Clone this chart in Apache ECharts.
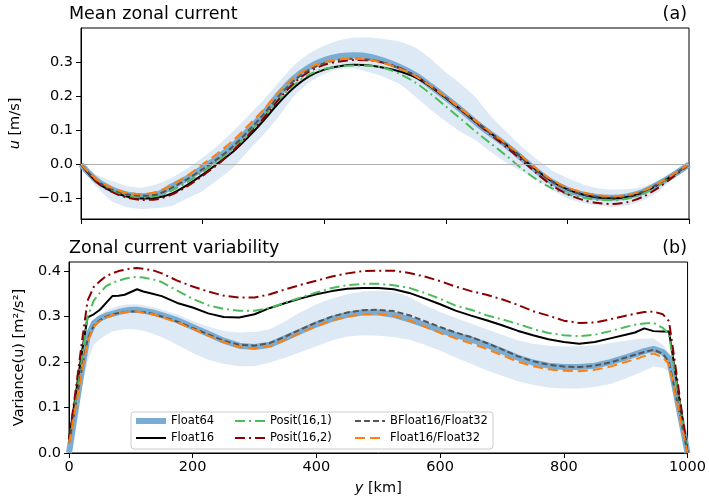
<!DOCTYPE html>
<html><head><meta charset="utf-8">
<script src="https://cdn.jsdelivr.net/npm/echarts@6/dist/echarts.min.js"></script>
<style>html,body{margin:0;padding:0;background:#fff}#c{width:709px;height:500px}</style>
</head><body><div id="c"></div>
<script>
// ---- Panel (a): mean zonal current u [m/s] ----
const yTop = [0,25,50,75,100,125,150,175,200,225,250,275,300,325,350,375,400,425,450,475,500,525,550,575,600,625,650,675,700,725,750,775,800,825,850,875,900,925,950,975,1000];
const uFloat64 = [0,-0.046,-0.073,-0.088,-0.093,-0.088,-0.064,-0.04,-0.011,0.02,0.055,0.1,0.148,0.205,0.252,0.285,0.306,0.317,0.32,0.316,0.303,0.285,0.262,0.23,0.196,0.16,0.122,0.088,0.055,0.018,-0.02,-0.052,-0.074,-0.088,-0.096,-0.098,-0.093,-0.08,-0.057,-0.03,0];
const uFloat16 = [0,-0.05,-0.078,-0.094,-0.1,-0.098,-0.085,-0.06,-0.03,0.003,0.037,0.08,0.128,0.18,0.225,0.258,0.278,0.288,0.292,0.29,0.283,0.272,0.255,0.228,0.195,0.16,0.124,0.09,0.057,0.02,-0.018,-0.05,-0.073,-0.088,-0.097,-0.1,-0.095,-0.082,-0.058,-0.03,0];
const uPosit161 = [0,-0.048,-0.076,-0.092,-0.097,-0.093,-0.076,-0.052,-0.022,0.01,0.046,0.09,0.138,0.19,0.233,0.263,0.28,0.288,0.29,0.289,0.282,0.265,0.24,0.207,0.17,0.133,0.095,0.06,0.025,-0.012,-0.045,-0.07,-0.087,-0.098,-0.104,-0.105,-0.1,-0.085,-0.06,-0.03,0];
const uPosit162 = [0,-0.05,-0.08,-0.097,-0.104,-0.102,-0.088,-0.064,-0.033,0,0.04,0.086,0.135,0.19,0.238,0.272,0.292,0.302,0.306,0.305,0.297,0.282,0.26,0.23,0.196,0.16,0.122,0.086,0.05,0.012,-0.027,-0.062,-0.087,-0.104,-0.113,-0.116,-0.11,-0.094,-0.068,-0.035,0];
const uBFloat16 = [0,-0.046,-0.072,-0.087,-0.092,-0.088,-0.068,-0.043,-0.014,0.017,0.053,0.098,0.146,0.2,0.245,0.277,0.297,0.307,0.31,0.307,0.297,0.281,0.26,0.229,0.196,0.16,0.123,0.089,0.056,0.019,-0.019,-0.051,-0.073,-0.087,-0.095,-0.097,-0.092,-0.079,-0.056,-0.029,0];
const uFloat16_32 = [0,-0.043,-0.068,-0.083,-0.087,-0.08,-0.06,-0.033,0,0.033,0.07,0.114,0.16,0.212,0.254,0.283,0.3,0.308,0.31,0.306,0.296,0.28,0.259,0.23,0.198,0.163,0.127,0.093,0.06,0.024,-0.014,-0.046,-0.068,-0.082,-0.09,-0.093,-0.089,-0.077,-0.055,-0.028,0];
const uBandUpper = [0,-0.03,-0.048,-0.063,-0.068,-0.058,-0.038,-0.012,0.02,0.055,0.097,0.142,0.189,0.24,0.29,0.325,0.348,0.364,0.372,0.372,0.367,0.36,0.343,0.31,0.27,0.235,0.195,0.14,0.095,0.052,0.015,-0.018,-0.04,-0.058,-0.07,-0.074,-0.072,-0.066,-0.048,-0.022,0];
const uBandLower = [0,-0.065,-0.107,-0.125,-0.131,-0.128,-0.121,-0.1,-0.078,-0.045,-0.01,0.04,0.087,0.14,0.2,0.24,0.265,0.28,0.282,0.27,0.255,0.235,0.199,0.16,0.126,0.095,0.07,0.035,0.005,-0.02,-0.045,-0.075,-0.1,-0.113,-0.12,-0.125,-0.12,-0.105,-0.08,-0.04,0];

// ---- Panel (b): variance of u [m^2/s^2] ----
const yBot = [0,10,20,30,40,50,60,70,80,90,100,110,120,135,150,175,200,225,250,275,300,325,350,375,400,425,450,475,500,525,550,575,600,625,650,675,700,725,750,775,800,825,850,875,900,915,930,945,960,970,980,990,1000];
const vFloat64 = [0,0.088,0.176,0.255,0.285,0.296,0.302,0.306,0.31,0.313,0.315,0.315,0.313,0.309,0.303,0.292,0.277,0.262,0.247,0.236,0.233,0.238,0.253,0.268,0.283,0.295,0.304,0.309,0.309,0.304,0.294,0.282,0.27,0.259,0.25,0.238,0.224,0.21,0.199,0.192,0.189,0.189,0.192,0.2,0.21,0.217,0.224,0.229,0.222,0.208,0.14,0.07,0];
const vFloat16 = [0.03,0.12,0.215,0.298,0.305,0.315,0.33,0.345,0.346,0.348,0.354,0.36,0.355,0.35,0.345,0.33,0.32,0.307,0.299,0.298,0.305,0.319,0.33,0.34,0.349,0.356,0.361,0.363,0.363,0.36,0.352,0.34,0.327,0.313,0.302,0.292,0.281,0.269,0.259,0.25,0.244,0.24,0.244,0.252,0.26,0.265,0.274,0.268,0.267,0.267,0.18,0.09,0];
const vPosit161 = [0.02,0.11,0.2,0.3,0.335,0.352,0.367,0.374,0.379,0.383,0.386,0.387,0.386,0.382,0.376,0.357,0.339,0.325,0.317,0.313,0.313,0.319,0.331,0.342,0.353,0.363,0.369,0.372,0.372,0.369,0.363,0.352,0.339,0.324,0.315,0.303,0.294,0.284,0.273,0.264,0.259,0.257,0.26,0.268,0.277,0.282,0.285,0.286,0.275,0.262,0.175,0.088,0];
const vPosit162 = [0.03,0.13,0.235,0.335,0.365,0.378,0.389,0.395,0.4,0.403,0.406,0.407,0.405,0.402,0.395,0.379,0.366,0.355,0.346,0.342,0.342,0.349,0.36,0.37,0.379,0.388,0.395,0.4,0.401,0.401,0.396,0.388,0.378,0.366,0.356,0.348,0.338,0.326,0.312,0.302,0.291,0.286,0.287,0.294,0.302,0.306,0.31,0.311,0.305,0.29,0.195,0.097,0];
const vBFloat16 = [0.02,0.1,0.18,0.25,0.28,0.292,0.3,0.305,0.308,0.31,0.311,0.311,0.31,0.306,0.3,0.289,0.275,0.261,0.247,0.238,0.236,0.242,0.256,0.272,0.287,0.3,0.309,0.314,0.315,0.312,0.303,0.29,0.277,0.265,0.255,0.242,0.228,0.213,0.202,0.194,0.19,0.189,0.192,0.199,0.21,0.216,0.222,0.227,0.218,0.2,0.135,0.068,0];
const vFloat16_32 = [0.02,0.095,0.172,0.245,0.278,0.29,0.298,0.303,0.307,0.31,0.311,0.311,0.309,0.305,0.299,0.287,0.273,0.258,0.244,0.233,0.23,0.235,0.249,0.265,0.279,0.291,0.3,0.305,0.306,0.302,0.292,0.278,0.264,0.252,0.241,0.229,0.215,0.201,0.191,0.184,0.181,0.18,0.183,0.19,0.2,0.206,0.213,0.219,0.21,0.195,0.13,0.065,0];
const vBandUpper = [0,0.1,0.2,0.27,0.292,0.305,0.313,0.319,0.323,0.326,0.327,0.327,0.325,0.321,0.315,0.305,0.29,0.278,0.268,0.265,0.266,0.272,0.29,0.31,0.327,0.34,0.349,0.355,0.357,0.355,0.343,0.325,0.31,0.297,0.285,0.272,0.26,0.248,0.24,0.236,0.234,0.235,0.237,0.242,0.247,0.25,0.252,0.252,0.238,0.22,0.147,0.073,0];
const vBandLower = [0,0.07,0.14,0.2,0.238,0.25,0.26,0.267,0.27,0.272,0.272,0.271,0.269,0.263,0.255,0.238,0.22,0.205,0.196,0.191,0.191,0.199,0.21,0.222,0.235,0.248,0.256,0.259,0.258,0.255,0.249,0.238,0.225,0.21,0.196,0.182,0.17,0.158,0.15,0.144,0.142,0.142,0.145,0.152,0.164,0.172,0.181,0.19,0.187,0.18,0.12,0.06,0];

// ---- tick labels ----
const xTicks = [0,200,400,600,800,1000];
const yTicksTop = [-0.1,0,0.1,0.2,0.3];
const yTicksBot = [0,0.1,0.2,0.3,0.4];
const legendNames = [['Float64','Float16'],['Posit(16,1)','Posit(16,2)'],['BFloat16/Float32','Float16/Float32']];

const FONT = 'DejaVu Sans';
const pair = (xs, ys) => xs.map((x, i) => [x, ys[i]]);
const fmtY = v => (v < 0 ? '\u2212' : '') + Math.abs(v).toFixed(1);

const styles = {
  'Float64': {color: '#79add4', width: 6, type: 'solid'},
  'Float16': {color: '#000000', width: 2, type: 'solid'},
  'Posit(16,1)': {color: '#4cbc5a', width: 2, type: [10, 4, 2, 4]},
  'Posit(16,2)': {color: '#8b0000', width: 2, type: [10, 4, 2, 4]},
  'BFloat16/Float32': {color: '#555555', width: 2, type: [6, 3]},
  'Float16/Float32': {color: '#ff7f0e', width: 2, type: [10, 5]}
};

function lineSeries(name, xs, ys, idx) {
  const s = styles[name];
  return {
    type: 'line', name, xAxisIndex: idx, yAxisIndex: idx,
    data: pair(xs, ys), symbol: 'none', showSymbol: false, smooth: idx === 0 ? 0.3 : false,
    lineStyle: {color: s.color, width: s.width, type: s.type},
    itemStyle: {color: s.color}, z: 3, silent: true
  };
}

// shaded envelope: polygon through upper values then lower values, mapped with api.coord
function bandSeries(xs, lo, hi, idx, withZero) {
  const s = {
    type: 'custom', name: 'band-' + idx, xAxisIndex: idx, yAxisIndex: idx,
    data: xs.map((x, i) => [x, lo[i], hi[i]]),
    encode: {x: 0, y: [1, 2]},
    silent: true, z: 1, clip: true,
    renderItem: function (params, api) {
      if (params.dataIndex !== 0) return null;
      const pts = [];
      for (let i = 0; i < xs.length; i++) pts.push(api.coord([xs[i], hi[i]]));
      for (let i = xs.length - 1; i >= 0; i--) pts.push(api.coord([xs[i], lo[i]]));
      return {type: 'polygon', shape: {points: pts, smooth: idx === 0 ? 0.15 : 0},
        style: {fill: '#dde9f5', stroke: null}};
    }
  };
  if (withZero) {
    s.markLine = {silent: true, symbol: 'none', label: {show: false},
      lineStyle: {color: '#b0b0b0', width: 1, type: 'solid'}, data: [{yAxis: 0}]};
  }
  return [s];
}

const axisCommon = {
  axisLine: {show: true, onZero: false, lineStyle: {color: '#000', width: 1}},
  axisTick: {show: true, length: 5, lineStyle: {color: '#000', width: 1}},
  splitLine: {show: false}
};

const legendData = names => names.map(n => ({name: n,
  lineStyle: {width: styles[n].width, type: styles[n].type, color: styles[n].color},
  itemStyle: {opacity: 0}}));

const option = {
  animation: false,
  backgroundColor: '#fff',
  grid: [
    {left: 69, top: 28, width: 620, height: 191, show: true, borderColor: '#000', borderWidth: 1, containLabel: false},
    {left: 69, top: 262, width: 620, height: 191, show: true, borderColor: '#000', borderWidth: 1, containLabel: false}
  ],
  xAxis: [
    Object.assign({}, axisCommon, {type: 'value', gridIndex: 0, min: 0, max: 1000, interval: 200,
      axisLabel: {show: false}}),
    Object.assign({}, axisCommon, {type: 'value', gridIndex: 1, min: 0, max: 1000, interval: 200,
      axisLabel: {show: true, fontFamily: FONT, fontSize: 14.5, color: '#000', margin: 7,
        customValues: xTicks, formatter: v => String(v)},
      name: '{i|y} [km]', nameLocation: 'middle', nameGap: 28,
      nameTextStyle: {fontFamily: FONT, fontSize: 14.5, color: '#000',
        rich: {i: {fontFamily: FONT, fontSize: 14.5, fontStyle: 'italic', color: '#000'}}}})
  ],
  yAxis: [
    Object.assign({}, axisCommon, {type: 'value', gridIndex: 0, min: -0.16, max: 0.4,
      axisTick: {show: true, length: 5, lineStyle: {color: '#000', width: 1}, customValues: yTicksTop},
      axisLabel: {show: true, fontFamily: FONT, fontSize: 14.5, color: '#000', margin: 8,
        customValues: yTicksTop, formatter: fmtY},
      name: '{i|u} [m/s]', nameLocation: 'middle', nameGap: 58, nameRotate: 90,
      nameTextStyle: {fontFamily: FONT, fontSize: 14.5, color: '#000',
        rich: {i: {fontFamily: FONT, fontSize: 14.5, fontStyle: 'italic', color: '#000'}}}}),
    Object.assign({}, axisCommon, {type: 'value', gridIndex: 1, min: 0, max: 0.42,
      axisTick: {show: true, length: 5, lineStyle: {color: '#000', width: 1}, customValues: yTicksBot},
      axisLabel: {show: true, fontFamily: FONT, fontSize: 14.5, color: '#000', margin: 8,
        customValues: yTicksBot, formatter: fmtY},
      name: 'Variance(u) [m\u00b2/s\u00b2]', nameLocation: 'middle', nameGap: 36, nameRotate: 90,
      nameTextStyle: {fontFamily: FONT, fontSize: 14.5, color: '#000'}})
  ],
  legend: legendNames.map((names, k) => ({
    orient: 'vertical', left: [133, 234, 354][k], top: 415, padding: 0,
    itemWidth: 30, itemHeight: 12, itemGap: 5, z: 6,
    textStyle: {fontFamily: FONT, fontSize: 11.5, color: '#000'},
    itemStyle: {opacity: 0},
    data: legendData(names), selectedMode: false
  })),
  graphic: [
    {type: 'text', x: 69, y: 14, z: 10, style: {text: 'Mean zonal current', fontFamily: FONT, fontSize: 17.5, fill: '#000', textAlign: 'left', textVerticalAlign: 'middle'}},
    {type: 'text', x: 687, y: 14, z: 10, style: {text: '(a)', fontFamily: FONT, fontSize: 17.5, fill: '#000', textAlign: 'right', textVerticalAlign: 'middle'}},
    {type: 'text', x: 69, y: 248, z: 10, style: {text: 'Zonal current variability', fontFamily: FONT, fontSize: 17.5, fill: '#000', textAlign: 'left', textVerticalAlign: 'middle'}},
    {type: 'text', x: 687, y: 248, z: 10, style: {text: '(b)', fontFamily: FONT, fontSize: 17.5, fill: '#000', textAlign: 'right', textVerticalAlign: 'middle'}},
    {type: 'rect', z: 5, shape: {x: 131, y: 412, width: 362, height: 37, r: 3},
      style: {fill: 'rgba(255,255,255,0.8)', stroke: '#cccccc', lineWidth: 1}}
  ],
  series: [].concat(
    bandSeries(yTop, uBandLower, uBandUpper, 0, true),
    [
      lineSeries('Float64', yTop, uFloat64, 0),
      lineSeries('Float16', yTop, uFloat16, 0),
      lineSeries('Posit(16,1)', yTop, uPosit161, 0),
      lineSeries('Posit(16,2)', yTop, uPosit162, 0),
      lineSeries('BFloat16/Float32', yTop, uBFloat16, 0),
      lineSeries('Float16/Float32', yTop, uFloat16_32, 0)
    ],
    bandSeries(yBot, vBandLower, vBandUpper, 1, false),
    [
      lineSeries('Float64', yBot, vFloat64, 1),
      lineSeries('Float16', yBot, vFloat16, 1),
      lineSeries('Posit(16,1)', yBot, vPosit161, 1),
      lineSeries('Posit(16,2)', yBot, vPosit162, 1),
      lineSeries('BFloat16/Float32', yBot, vBFloat16, 1),
      lineSeries('Float16/Float32', yBot, vFloat16_32, 1)
    ]
  )
};

const chart = echarts.init(document.getElementById('c'), null, {renderer: 'canvas'});
chart.setOption(option);
</script>
</body></html>
